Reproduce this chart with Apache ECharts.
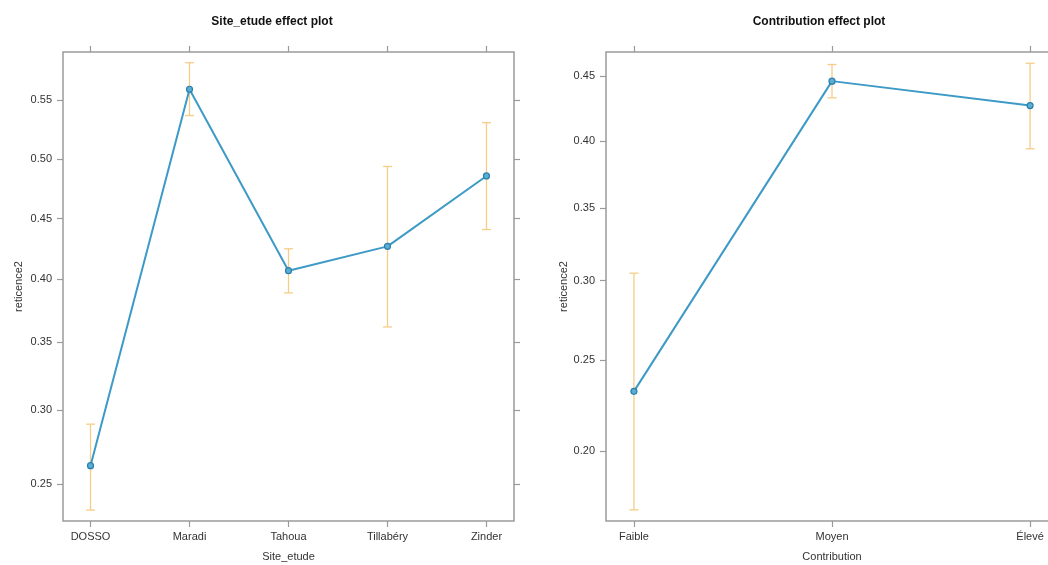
<!DOCTYPE html>
<html>
<head>
<meta charset="utf-8">
<script src="https://cdn.jsdelivr.net/npm/echarts@6/dist/echarts.min.js"></script>
<style>
html, body { margin: 0; padding: 0; background: #fff; }
#main { width: 1048px; height: 565px; }
</style>
</head>
<body>
<div id="main"></div>
<script>
// effets estimés (échelle de probabilité)
var siteCats = ['DOSSO', 'Maradi', 'Tahoua', 'Tillabéry', 'Zinder'];
var siteFit = [0.262, 0.559, 0.407, 0.427, 0.486];
var siteLower = [0.234, 0.537, 0.389, 0.362, 0.441];
var siteUpper = [0.290, 0.581, 0.425, 0.494, 0.531];
var siteTicks = [0.25, 0.30, 0.35, 0.40, 0.45, 0.50, 0.55];

var contribCats = ['Faible', 'Moyen', 'Élevé'];
var contribFit = [0.232, 0.446, 0.427];
var contribLower = [0.172, 0.433, 0.394];
var contribUpper = [0.305, 0.459, 0.460];
var contribTicks = [0.20, 0.25, 0.30, 0.35, 0.40, 0.45];

var FONT = 'Arial, "Liberation Sans", sans-serif';
var GRAY = '#9a9a9a';
var TXT = '#333';

function logit(p) { return Math.log(p / (1 - p)); }
function invlogit(x) { return 1 / (1 + Math.exp(-x)); }

function idx(arr) { return arr.map(function(v, i) { return i; }); }

function xAxes(gi, cats, pad, name, gap) {
	var n = cats.length - 1;
	var base = {
		type: 'value', gridIndex: gi, min: -pad, max: n + pad,
		splitLine: { show: false }, axisLine: { show: false, onZero: false },
		axisTick: { show: true, length: 6, lineStyle: { color: GRAY, width: 1.2 }, customValues: idx(cats) }
	};
	var bottom = Object.assign({}, base, {
		position: 'bottom',
		name: name, nameLocation: 'middle', nameGap: gap,
		nameTextStyle: { fontFamily: FONT, fontSize: 11, color: TXT },
		axisLabel: {
			margin: 10, fontFamily: FONT, fontSize: 11, color: TXT,
			customValues: idx(cats),
			formatter: function(v) { return cats[Math.round(v)]; }
		}
	});
	var top = Object.assign({}, base, { position: 'top', axisLabel: { show: false } });
	return [bottom, top];
}

function yAxes(gi, ticks, lo, hi, gap) {
	var tv = ticks.map(logit);
	var base = {
		type: 'value', gridIndex: gi, min: lo, max: hi,
		splitLine: { show: false }, axisLine: { show: false, onZero: false },
		axisTick: { show: true, length: 6, lineStyle: { color: GRAY, width: 1.2 }, customValues: tv }
	};
	var left = Object.assign({}, base, {
		position: 'left',
		name: 'reticence2', nameLocation: 'middle', nameGap: gap,
		nameTextStyle: { fontFamily: FONT, fontSize: 11, color: TXT },
		axisLabel: {
			margin: 11, fontFamily: FONT, fontSize: 11, color: TXT,
			customValues: tv,
			formatter: function(v) { return invlogit(v).toFixed(2); }
		}
	});
	var right = Object.assign({}, base, { position: 'right', axisLabel: { show: false } });
	return [left, right];
}

function errSeries(ai, lower, upper) {
	return {
		type: 'custom', xAxisIndex: ai, yAxisIndex: ai, z: 2, silent: true,
		data: lower.map(function(l, i) { return [i, logit(l), logit(upper[i])]; }),
		renderItem: function(params, api) {
			var a = api.coord([api.value(0), api.value(1)]);
			var b = api.coord([api.value(0), api.value(2)]);
			var w = 4.5;
			var st = { stroke: '#f5cd88', lineWidth: 1.3 };
			return {
				type: 'group',
				children: [
					{ type: 'line', shape: { x1: a[0], y1: a[1], x2: b[0], y2: b[1] }, style: st },
					{ type: 'line', shape: { x1: a[0] - w, y1: a[1], x2: a[0] + w, y2: a[1] }, style: st },
					{ type: 'line', shape: { x1: b[0] - w, y1: b[1], x2: b[0] + w, y2: b[1] }, style: st }
				]
			};
		}
	};
}

function lineSeries(ai, fit) {
	return {
		type: 'line', xAxisIndex: ai, yAxisIndex: ai, z: 3, silent: true,
		data: fit.map(function(p, i) { return [i, logit(p)]; }),
		symbol: 'circle', symbolSize: 6,
		lineStyle: { color: '#3d9ac6', width: 2 },
		itemStyle: { color: '#5aaed4', borderColor: '#2a7fab', borderWidth: 1.2 }
	};
}

var myChart = echarts.init(document.getElementById('main'), null, { renderer: 'canvas' });

// axes 0,1 -> grid 0 ; axes 2,3 -> grid 1
var xs = xAxes(0, siteCats, 0.278, 'Site_etude', 30).concat(xAxes(1, contribCats, 0.141, 'Contribution', 30));
var ys = yAxes(0, siteTicks, -1.2228, 0.3631, 39).concat(yAxes(1, contribTicks, -1.6067, -0.1248, 37));

var option = {
	animation: false,
	backgroundColor: '#fff',
	title: [
		{ text: 'Site_etude effect plot', left: 267, top: 11, textAlign: 'center',
		  textStyle: { fontFamily: FONT, fontSize: 12, fontWeight: 'bold', color: '#111' } },
		{ text: 'Contribution effect plot', left: 814, top: 11, textAlign: 'center',
		  textStyle: { fontFamily: FONT, fontSize: 12, fontWeight: 'bold', color: '#111' } }
	],
	grid: [
		{ left: 63, top: 52, width: 451, height: 469, outerBoundsMode: 'none', containLabel: false,
		  show: true, borderColor: GRAY, borderWidth: 1.5, backgroundColor: '#fff' },
		{ left: 606, top: 52, width: 452, height: 469, outerBoundsMode: 'none', containLabel: false,
		  show: true, borderColor: GRAY, borderWidth: 1.5, backgroundColor: '#fff' }
	],
	xAxis: xs,
	yAxis: ys,
	series: [
		errSeries(0, siteLower, siteUpper),
		lineSeries(0, siteFit),
		errSeries(2, contribLower, contribUpper),
		lineSeries(2, contribFit)
	]
};

myChart.setOption(option);
</script>
</body>
</html>
